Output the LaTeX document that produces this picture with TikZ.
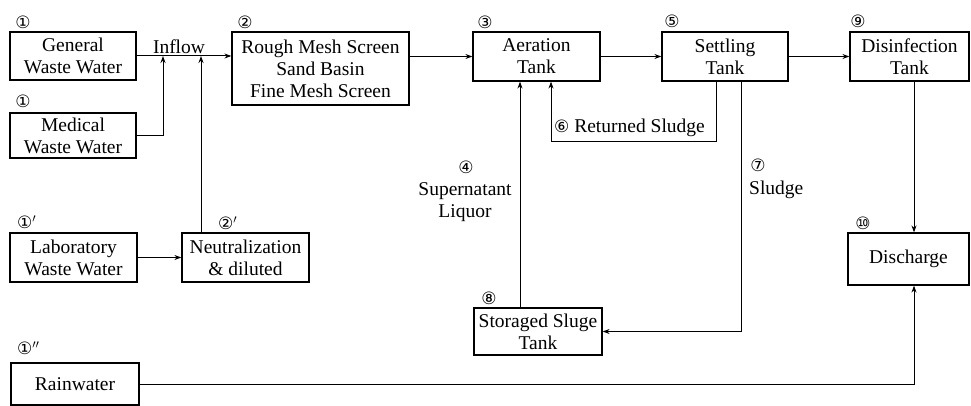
\documentclass[tikz,border=0pt]{standalone}
\usepackage{fontspec}
\setmainfont{Liberation Serif}
\newfontfamily\circfont{DejaVu Sans}
\usetikzlibrary{arrows.meta}
\begin{document}
\begin{tikzpicture}[x=1pt,y=-1pt,
  box/.style={draw,line width=1.2pt,rectangle,inner sep=0pt,align=center,
    font=\fontsize{19.5}{22}\selectfont},
  lbl/.style={inner sep=0pt,align=center,font=\fontsize{19.5}{22}\selectfont},
  num/.style={inner sep=0pt,font=\circfont\fontsize{17}{17}\selectfont},
  flow/.style={line width=1pt,-{Stealth[length=7pt,width=5pt]}},
  line/.style={line width=1pt}]
\useasboundingbox (0,0) rectangle (971,406);
% boxes
\node[box,minimum width=126pt,minimum height=48pt] (gen) at (73,56) {General\\Waste Water};
\node[box,minimum width=126pt,minimum height=45pt] (med) at (73,135.5) {Medical\\Waste Water};
\node[box,minimum width=127pt,minimum height=49pt] (lab) at (73.5,257.5) {Laboratory\\Waste Water};
\node[box,minimum width=127pt,minimum height=49pt] (neu) at (245.5,257.5) {Neutralization\\\& diluted};
\node[box,minimum width=128pt,minimum height=42pt] (rain) at (75,384) {Rainwater};
\node[box,minimum width=177pt,minimum height=73pt] (rough) at (320.5,68.5) {Rough Mesh Screen\\Sand Basin\\Fine Mesh Screen};
\node[box,minimum width=127pt,minimum height=49pt] (aer) at (536.5,56.5) {Aeration\\Tank};
\node[box,minimum width=126pt,minimum height=49pt] (set) at (725,56.5) {Settling\\Tank};
\node[box,minimum width=119pt,minimum height=49pt] (dis) at (909.5,56.5) {Disinfection\\Tank};
\node[box,minimum width=128pt,minimum height=47pt] (stor) at (538,331.5) {Storaged Sluge\\Tank};
\node[box,minimum width=121pt,minimum height=52pt] (disc) at (908.5,259) {Discharge};
% number labels
\node[num] (n1a) at (23,22) {①};
\node[num] (n1b) at (23,101) {①};
\node[num,anchor=west] (n1c) at (17,222) {①$'$};
\node[num,anchor=west] (n1d) at (17,348) {①$''$};
\node[num] (n2) at (245,22) {②};
\node[num,anchor=west] (n2p) at (218,223) {②$'$};
\node[num] (n3) at (485,22) {③};
\node[num] (n5) at (672,21) {⑤};
\node[num] (n9) at (858,21) {⑨};
\node[num] (n10) at (863,223) {⑩};
\node[num] (n4) at (466,167) {④};
\node[num] (n8) at (489,298) {⑧};
\node[num] (n7) at (758,165) {⑦};
% text labels
\node[lbl] (inflow) at (179,47) {Inflow};
\node[lbl,anchor=west] (ret) at (554,128) {{\circfont\fontsize{17}{17}\selectfont ⑥}\ Returned Sludge};
\node[lbl] (sup) at (465,202) {Supernatant\\Liquor};
\node[lbl,anchor=west] (sl) at (749,190) {Sludge};
% coordinates
\coordinate (j1) at (163,56);
\coordinate (j2) at (201,56);
\coordinate (rA) at (716,142);
\coordinate (rB) at (551,142);
\coordinate (sA) at (741,331.5);
\coordinate (sx) at (520,0);
\coordinate (dx) at (914,0);
% connectors
\draw[flow] (gen.east) -- (gen.east -| rough.west);
\draw[flow] (med.east) -| (j1);
\draw[flow] (neu.north -| j2) -- (j2);
\draw[flow] (lab.east) -- (neu.west);
\draw[flow] (rough.east |- aer.west) -- (aer.west);
\draw[flow] (aer.east) -- (set.west);
\draw[flow] (set.east) -- (dis.west);
\draw[flow] (set.south -| rA) -- (rA) -- (rB) -- (rB |- aer.south);
\draw[flow] (set.south -| sA) -- (sA) -- (stor.east);
\draw[flow] (stor.north -| sx) -- (aer.south -| sx);
\draw[flow] (dis.south -| dx) -- (disc.north -| dx);
\draw[flow] (rain.east) -| (disc.south -| dx);
\end{tikzpicture}
\end{document}
